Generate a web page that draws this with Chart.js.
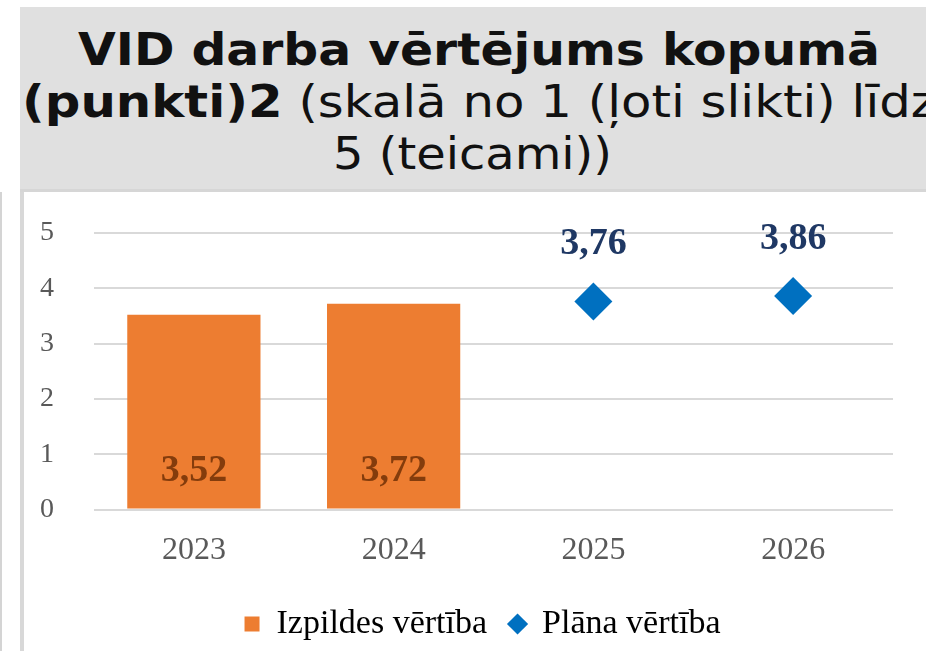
<!DOCTYPE html>
<html>
<head>
<meta charset="utf-8">
<script src="https://cdn.jsdelivr.net/npm/chart.js@4.4.1/dist/chart.umd.min.js"></script>
<style>
  html, body { margin: 0; padding: 0; background: #ffffff; width: 926px; height: 651px; overflow: hidden; }
  #title {
    position: absolute; left: 20px; top: 7px; width: 906px; height: 182px;
    background: #e0e0e0; border-bottom: 3px solid #d6d6d6;
    font-family: "DejaVu Sans", sans-serif; color: #111;
    font-size: 44px; line-height: 52px; overflow: hidden;
  }
  #title span.line { position: absolute; white-space: nowrap; display: inline-block; left: 0; }
  #title b { font-weight: bold; }
  #leftline { position: absolute; left: 0; top: 192px; width: 2px; height: 459px; background: #d4d4d4; }
  #frame { position: absolute; left: 20px; top: 192px; width: 4px; height: 459px; background: #d8d8d8; }
  #wrap { position: absolute; left: 24px; top: 176px; width: 902px; height: 475px; }
</style>
</head>
<body>
<div id="title">
  <span class="line" id="t1"><b>VID darba vērtējums kopumā</b></span>
  <span class="line" id="t2"><b>(punkti)2</b> (skalā no 1 (ļoti slikti) līdz</span>
  <span class="line" id="t3">5 (teicami))</span>
</div>
<div id="leftline"></div>
<div id="frame"></div>
<div id="wrap"><canvas id="c" width="902" height="475"></canvas></div>
<script>
// fit title lines horizontally (box-relative coords: box left = 20)
(function () {
  const spec = [
    { id: 't1', left: 58, width: 802, top: 17 },
    { id: 't2', left: 2, width: 915, top: 69 },
    { id: 't3', left: 313, width: 279, top: 121 }
  ];
  spec.forEach(s => {
    const el = document.getElementById(s.id);
    const w = el.getBoundingClientRect().width;
    el.style.top = s.top + 'px';
    el.style.left = s.left + 'px';
    el.style.transformOrigin = '0 0';
    el.style.transform = 'scaleX(' + (s.width / w) + ')';
  });
})();

const categories = ["2023", "2024", "2025", "2026"];
const actualValues = [3.52, 3.72, null, null];
const planValues = [null, null, 3.76, 3.86];
const yTicks = [0, 1, 2, 3, 4, 5];
const seriesNames = ["Izpildes vērtība", "Plāna vērtība"];

const fmt = v => v.toFixed(2).replace('.', ',');

const labelPlugin = {
  id: 'valueLabels',
  afterLayout(chart) {
    if (chart.legend) { chart.legend.left += 24; chart.legend.right += 24; }
  },
  afterDatasetsDraw(chart) {
    const ctx = chart.ctx;
    const yScale = chart.scales.y;
    ctx.save();
    ctx.textAlign = 'center';
    ctx.textBaseline = 'middle';
    chart.data.datasets.forEach((ds, di) => {
      const meta = chart.getDatasetMeta(di);
      meta.data.forEach((el, i) => {
        const v = ds.data[i];
        if (v === null || v === undefined) return;
        ctx.font = 'bold 38px "Liberation Serif", serif';
        if (di === 0) {
          ctx.fillStyle = '#843c0c';
          ctx.fillText(fmt(v), el.x, yScale.getPixelForValue(0) - 38);
        } else {
          ctx.fillStyle = '#1f3864';
          ctx.fillText(fmt(v), el.x, el.y - 57);
        }
      });
    });
    ctx.restore();
  }
};

new Chart(document.getElementById('c'), {
  type: 'bar',
  data: {
    labels: categories,
    datasets: [
      {
        label: seriesNames[0],
        data: actualValues,
        backgroundColor: '#ed7d31',
        categoryPercentage: 1.0,
        barPercentage: 0.667,
        grouped: false,
        order: 2
      },
      {
        type: 'line',
        label: seriesNames[1],
        data: planValues,
        showLine: false,
        pointStyle: 'rectRot',
        pointRadius: 19,
        pointHoverRadius: 19,
        backgroundColor: '#0070c0',
        borderColor: '#0070c0',
        borderWidth: 0,
        order: 1
      }
    ]
  },
  options: {
    responsive: false,
    animation: false,
    devicePixelRatio: 1,
    layout: { padding: { left: 0, right: 33, top: 14, bottom: 0 } },
    plugins: {
      legend: {
        position: 'bottom',
        labels: {
          usePointStyle: true,
          boxWidth: 15,
          boxHeight: 15,
          color: '#111',
          font: { family: '"Liberation Serif", serif', size: 34 },
          padding: 23,
          generateLabels(chart) {
            return [
              { text: seriesNames[0], fillStyle: '#ed7d31', strokeStyle: '#ed7d31', lineWidth: 0, pointStyle: 'rect', datasetIndex: 0 },
              { text: seriesNames[1], fillStyle: '#0070c0', strokeStyle: '#0070c0', lineWidth: 0, pointStyle: 'rectRot', datasetIndex: 1 }
            ];
          }
        }
      },
      tooltip: { enabled: false }
    },
    scales: {
      x: {
        grid: { display: false },
        border: { display: false },
        ticks: { color: '#595959', font: { family: '"Liberation Serif", serif', size: 32 }, padding: 14 }
      },
      y: {
        min: 0, max: 5,
        afterBuildTicks(scale) { scale.ticks = yTicks.map(v => ({ value: v })); },
        afterFit(scale) { scale.width = 70; },
        grid: { color: '#d9d9d9', lineWidth: 2, drawTicks: false },
        border: { display: false },
        ticks: { color: '#595959', font: { family: '"Liberation Serif", serif', size: 28 }, padding: 40 }
      }
    }
  },
  plugins: [labelPlugin]
});
</script>
</body>
</html>
